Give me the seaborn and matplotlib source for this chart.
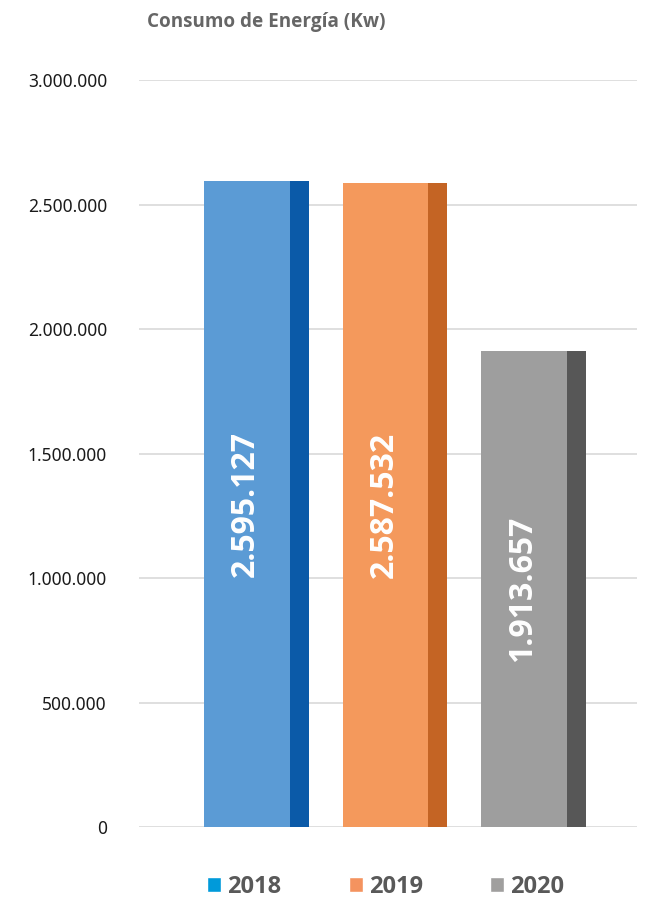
import numpy as np
import pandas as pd
import matplotlib
matplotlib.use("Agg")
import matplotlib.pyplot as plt
import seaborn as sns
from matplotlib.ticker import FuncFormatter
from matplotlib.patches import Patch

# Dados do gráfico
anos = ["2018", "2019", "2020"]
consumo = [2595127, 2587532, 1913657]
cores_frente = ["#5B9BD5", "#F4995C", "#9E9E9E"]
cores_lado = ["#0B5AA8", "#C46424", "#575757"]
cores_legenda = ["#009ADA", "#F4935F", "#A09F9E"]

df = pd.DataFrame({"ANO": anos, "CONSUMO": consumo})

sns.set_theme(style="white")
plt.rcParams["font.family"] = ["Noto Sans", "DejaVu Sans"]
negrito = ["Open Sans", "DejaVu Sans"]


def formato_pontos(v, pos):
    return f"{int(v):,}".replace(",", ".")


fig = plt.figure(figsize=(6.55, 9), dpi=100)
ax = fig.add_axes([0.2122, 0.0811, 0.7603, 0.83])

# Parte frontal das barras
sns.barplot(data=df, x="ANO", y="CONSUMO", hue="ANO", palette=cores_frente,
            width=0.62, saturation=1, legend=False, ax=ax, zorder=3,
            linewidth=0, edgecolor="none")

# Lateral escura (efeito 3D)
x = np.arange(len(anos))
ax.bar(x + 0.379, consumo, width=0.137, color=cores_lado, linewidth=0, zorder=3)

# Rótulos dentro das barras
for xi, v in zip(x, consumo):
    ax.text(xi - 0.01, v / 2, formato_pontos(v, None), rotation=90, ha="center",
            va="center", color="white", fontsize=23, fontweight="bold",
            family=negrito, zorder=4)

ax.set_ylim(0, 3000000)
ax.set_xlim(-0.78, 2.816)
ax.set_yticks(np.arange(0, 3000001, 500000))
ax.yaxis.set_major_formatter(FuncFormatter(formato_pontos))
ax.tick_params(axis="y", length=0, pad=23, labelsize=12.5, labelcolor="#1A1A1A")
ax.set_xticks([])
ax.set_xlabel("")
ax.set_ylabel("")
ax.grid(axis="y", color="#D9D9D9", linewidth=1.2, zorder=0)
ax.set_axisbelow(True)
for s in ax.spines.values():
    s.set_visible(False)

fig.suptitle("Consumo de Energía (Kw)", x=0.406, y=0.987, fontsize=13.6,
             fontweight="bold", color="#666666", family=negrito)

handles = [Patch(facecolor=c, label=a) for c, a in zip(cores_legenda, anos)]
leg = fig.legend(handles=handles, loc="lower center", ncol=3, frameon=False,
                 bbox_to_anchor=(0.589, -0.022), handlelength=0.6, handleheight=0.6,
                 handletextpad=0.25, columnspacing=2.85,
                 prop={"size": 17, "weight": "bold", "family": negrito})
for t in leg.get_texts():
    t.set_color("#595959")

fig.savefig("out.png", dpi=100)
